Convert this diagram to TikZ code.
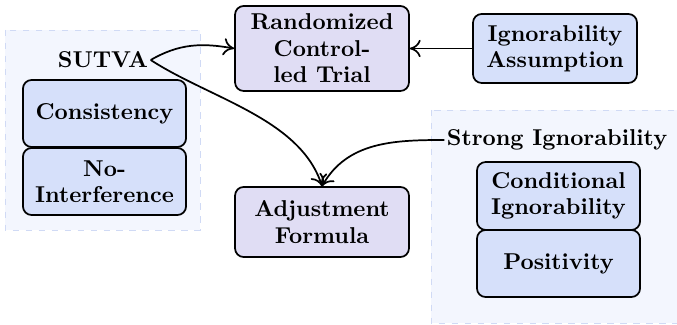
\documentclass[tikz,border=0pt]{standalone}
\usetikzlibrary{arrows.meta}
\definecolor{lav}{RGB}{224,221,244}
\definecolor{bluebox}{RGB}{214,224,250}
\definecolor{bgfill}{RGB}{243,246,254}
\definecolor{bgline}{RGB}{208,218,245}
\begin{document}
\begin{tikzpicture}[x=0.4623pt,y=-0.4623pt,
  every node/.style={font=\fontsize{10.6}{12.2}\selectfont\bfseries},
  box/.style={draw=black,thick,rounded corners=4pt,inner sep=0pt,align=center},
  lavbox/.style={box,fill=lav},
  bluebx/.style={box,fill=bluebox},
  group/.style={draw=bgline,dashed,fill=bgfill},
  lbl/.style={inner sep=1pt},
  conn/.style={-{To[length=5pt,width=8pt]},thick}]
\useasboundingbox (0,0) rectangle (677,325);
% groups
\path[group] (5,30) rectangle (200,230);
\path[group] (431,110) rectangle (677,323);
% nodes
\node[bluebx] (cons) at (104.5,113.5) [minimum width=75.4pt,minimum height=31pt] {Consistency};
\node[bluebx] (noint) at (104.5,181.5) [minimum width=75.4pt,minimum height=31pt] {No-\\Interference};
\node[lbl] (sutva) at (103,60) {SUTVA};
\node[lavbox] (rct) at (322,48.5) [minimum width=80.4pt,minimum height=39.3pt] {Randomized\\Control-\\led Trial};
\node[bluebx] (ign) at (555,48.5) [minimum width=75.8pt,minimum height=31.9pt] {Ignorability\\Assumption};
\node[lavbox] (adj) at (322,222) [minimum width=80.4pt,minimum height=32.4pt] {Adjustment\\Formula};
\node[lbl] (strong) at (557,140) {Strong Ignorability};
\node[bluebx] (cond) at (558.5,196) [minimum width=75.4pt,minimum height=31.4pt] {Conditional\\Ignorability};
\node[bluebx] (pos) at (558.5,263.5) [minimum width=75.4pt,minimum height=31pt] {Positivity};
% connectors
\draw[conn] (ign.west) -- (rct.east |- ign.west);
\draw[conn] (sutva.east) to[out=30,in=170] (rct.west);
\draw[conn] (sutva.east) to[out=-33,in=108,looseness=0.85] (adj.north);
\draw[conn] (strong.west) to[out=180,in=60] (adj.north);
\end{tikzpicture}
\end{document}
